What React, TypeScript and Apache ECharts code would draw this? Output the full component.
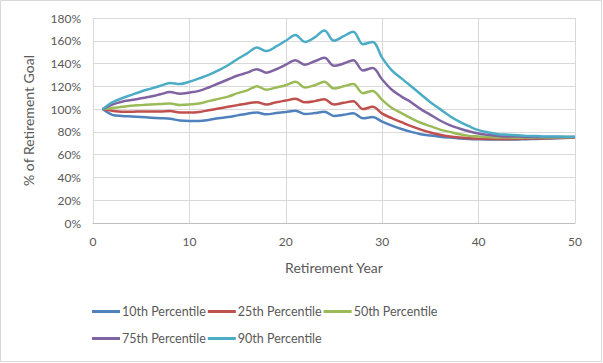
import React, { useEffect, useRef } from "react";
import * as echarts from "echarts";

const years: number[] = Array.from({ length: 50 }, (_, i) => i + 1);

const seriesNames = ["10th Percentile", "25th Percentile", "50th Percentile", "75th Percentile", "90th Percentile"];

const p10: number[] = [100, 95, 94, 93.5, 93, 92.5, 92, 91.5, 90, 89.6, 89.6, 90.5, 92, 93, 94.5, 96, 97, 95.4, 96.5, 97.5, 98.6, 95.7, 96.5, 97.7, 94, 95, 96.3, 92, 93, 89, 85.5, 82.5, 80, 78, 76.8, 75.8, 75, 74.3, 73.8, 73.5, 73.3, 73.3, 73.3, 73.4, 73.6, 73.8, 74.1, 74.4, 74.7, 75];
const p25: number[] = [100, 98.5, 97.7, 97.7, 98, 98, 98, 98.3, 97, 97, 97.5, 99, 100.5, 102, 103.5, 105, 106, 104, 106, 107.5, 109, 106, 107, 108.6, 104, 105.5, 107, 100, 102, 96, 92, 88.5, 85, 82, 79.5, 77.5, 76, 75, 74.4, 74, 73.8, 73.7, 73.7, 73.8, 74, 74.2, 74.4, 74.6, 74.8, 75];
const p50: number[] = [100, 101, 102, 103, 103.5, 104, 104.5, 105, 103.6, 104, 105, 107, 109, 111, 114, 116.5, 120, 117, 119, 121, 124, 119, 121, 124, 118, 120, 122, 114, 116, 108, 101, 96.5, 92, 88, 85, 82, 80, 78, 76.5, 76, 75.5, 75, 75, 74.8, 74.8, 75, 75, 75, 75.2, 75.3];
const p75: number[] = [100, 104, 106.5, 108, 109.5, 111, 113, 115, 113.5, 114.5, 116, 119, 122.5, 126, 129.5, 132, 135, 132, 135, 139, 143, 139, 142, 145, 138, 140, 143, 134, 136, 126, 117, 111, 106, 100, 95, 90, 86, 83, 80.5, 78.5, 77.5, 76.5, 76, 76, 75.5, 75.5, 75.5, 75.5, 75.5, 75.5];
const p90: number[] = [100, 106, 109.5, 112.5, 115.5, 118, 120.5, 123, 122, 124, 127, 130, 134, 138.5, 144, 149, 154, 151, 155, 160, 165, 159, 163, 169, 160, 164, 168, 157, 159, 145, 134, 127, 120, 113, 106, 100, 94, 89, 85, 81.5, 79.5, 78, 77.5, 77, 76.5, 76.3, 76, 76, 75.8, 75.8];

const allValues: number[][] = [p10, p25, p50, p75, p90];
const colors = ["#4F81BD", "#C0504D", "#9BBB59", "#8064A2", "#4BACC6"];

const xTicks = { min: 0, max: 50, interval: 10 };
const yTicks = { min: 0, max: 180, interval: 20 };

const FONT = "Lato, 'Open Sans', sans-serif";
const GRAY = "#595959";

export default function App() {
  const ref = useRef<HTMLDivElement>(null);
  useEffect(() => {
    document.body.style.margin = "0";
    if (!ref.current) return;
    const chart = echarts.init(ref.current, undefined, { renderer: "svg" });
    const series = allValues.map((vals, i) => ({
      name: seriesNames[i],
      type: "line",
      data: years.map((y, j) => [y, vals[j]]),
      smooth: 0.35,
      showSymbol: false,
      symbol: "none",
      lineStyle: { width: 2.5, color: colors[i] },
      itemStyle: { color: colors[i] },
    }));
    const legendCommon = {
      left: 92,
      padding: 0,
      itemWidth: 28,
      itemHeight: 3,
      itemGap: 2,
      icon: "rect",
      textStyle: { fontFamily: FONT, fontSize: 12.5, color: GRAY, width: 80, padding: [0, 0, 0, -3] },
    };
    chart.setOption({
      animation: false,
      graphic: [
        {
          type: "rect",
          shape: { x: 0.5, y: 0.5, width: 601, height: 361 },
          style: { fill: "none", stroke: "#d9d9d9", lineWidth: 1 },
          silent: true,
        },
      ],
      legend: [
        { ...legendCommon, top: 305, data: seriesNames.slice(0, 3) },
        { ...legendCommon, top: 332, data: seriesNames.slice(3) },
      ],
      grid: { left: 93, right: 28, top: 18, bottom: 140 },
      xAxis: {
        type: "value",
        ...xTicks,
        name: "Retirement Year",
        nameLocation: "middle",
        nameGap: 37,
        nameTextStyle: { fontFamily: FONT, fontSize: 14, color: GRAY },
        axisLine: { show: true, lineStyle: { color: "#bfbfbf" } },
        axisTick: { show: false },
        axisLabel: { fontFamily: FONT, fontSize: 12, color: GRAY, margin: 12 },
        splitLine: { show: true, lineStyle: { color: "#d9d9d9" } },
      },
      yAxis: {
        type: "value",
        ...yTicks,
        name: "% of Retirement Goal",
        nameLocation: "middle",
        nameGap: 58,
        nameTextStyle: { fontFamily: FONT, fontSize: 14, color: GRAY },
        axisLine: { show: false },
        axisTick: { show: false },
        axisLabel: { fontFamily: FONT, fontSize: 12, color: GRAY, margin: 12, formatter: "{value}%" },
        splitLine: { show: true, lineStyle: { color: "#d9d9d9" } },
      },
      series,
    });
    return () => chart.dispose();
  }, []);
  return <div ref={ref} style={{ width: 603, height: 363 }} />;
}
